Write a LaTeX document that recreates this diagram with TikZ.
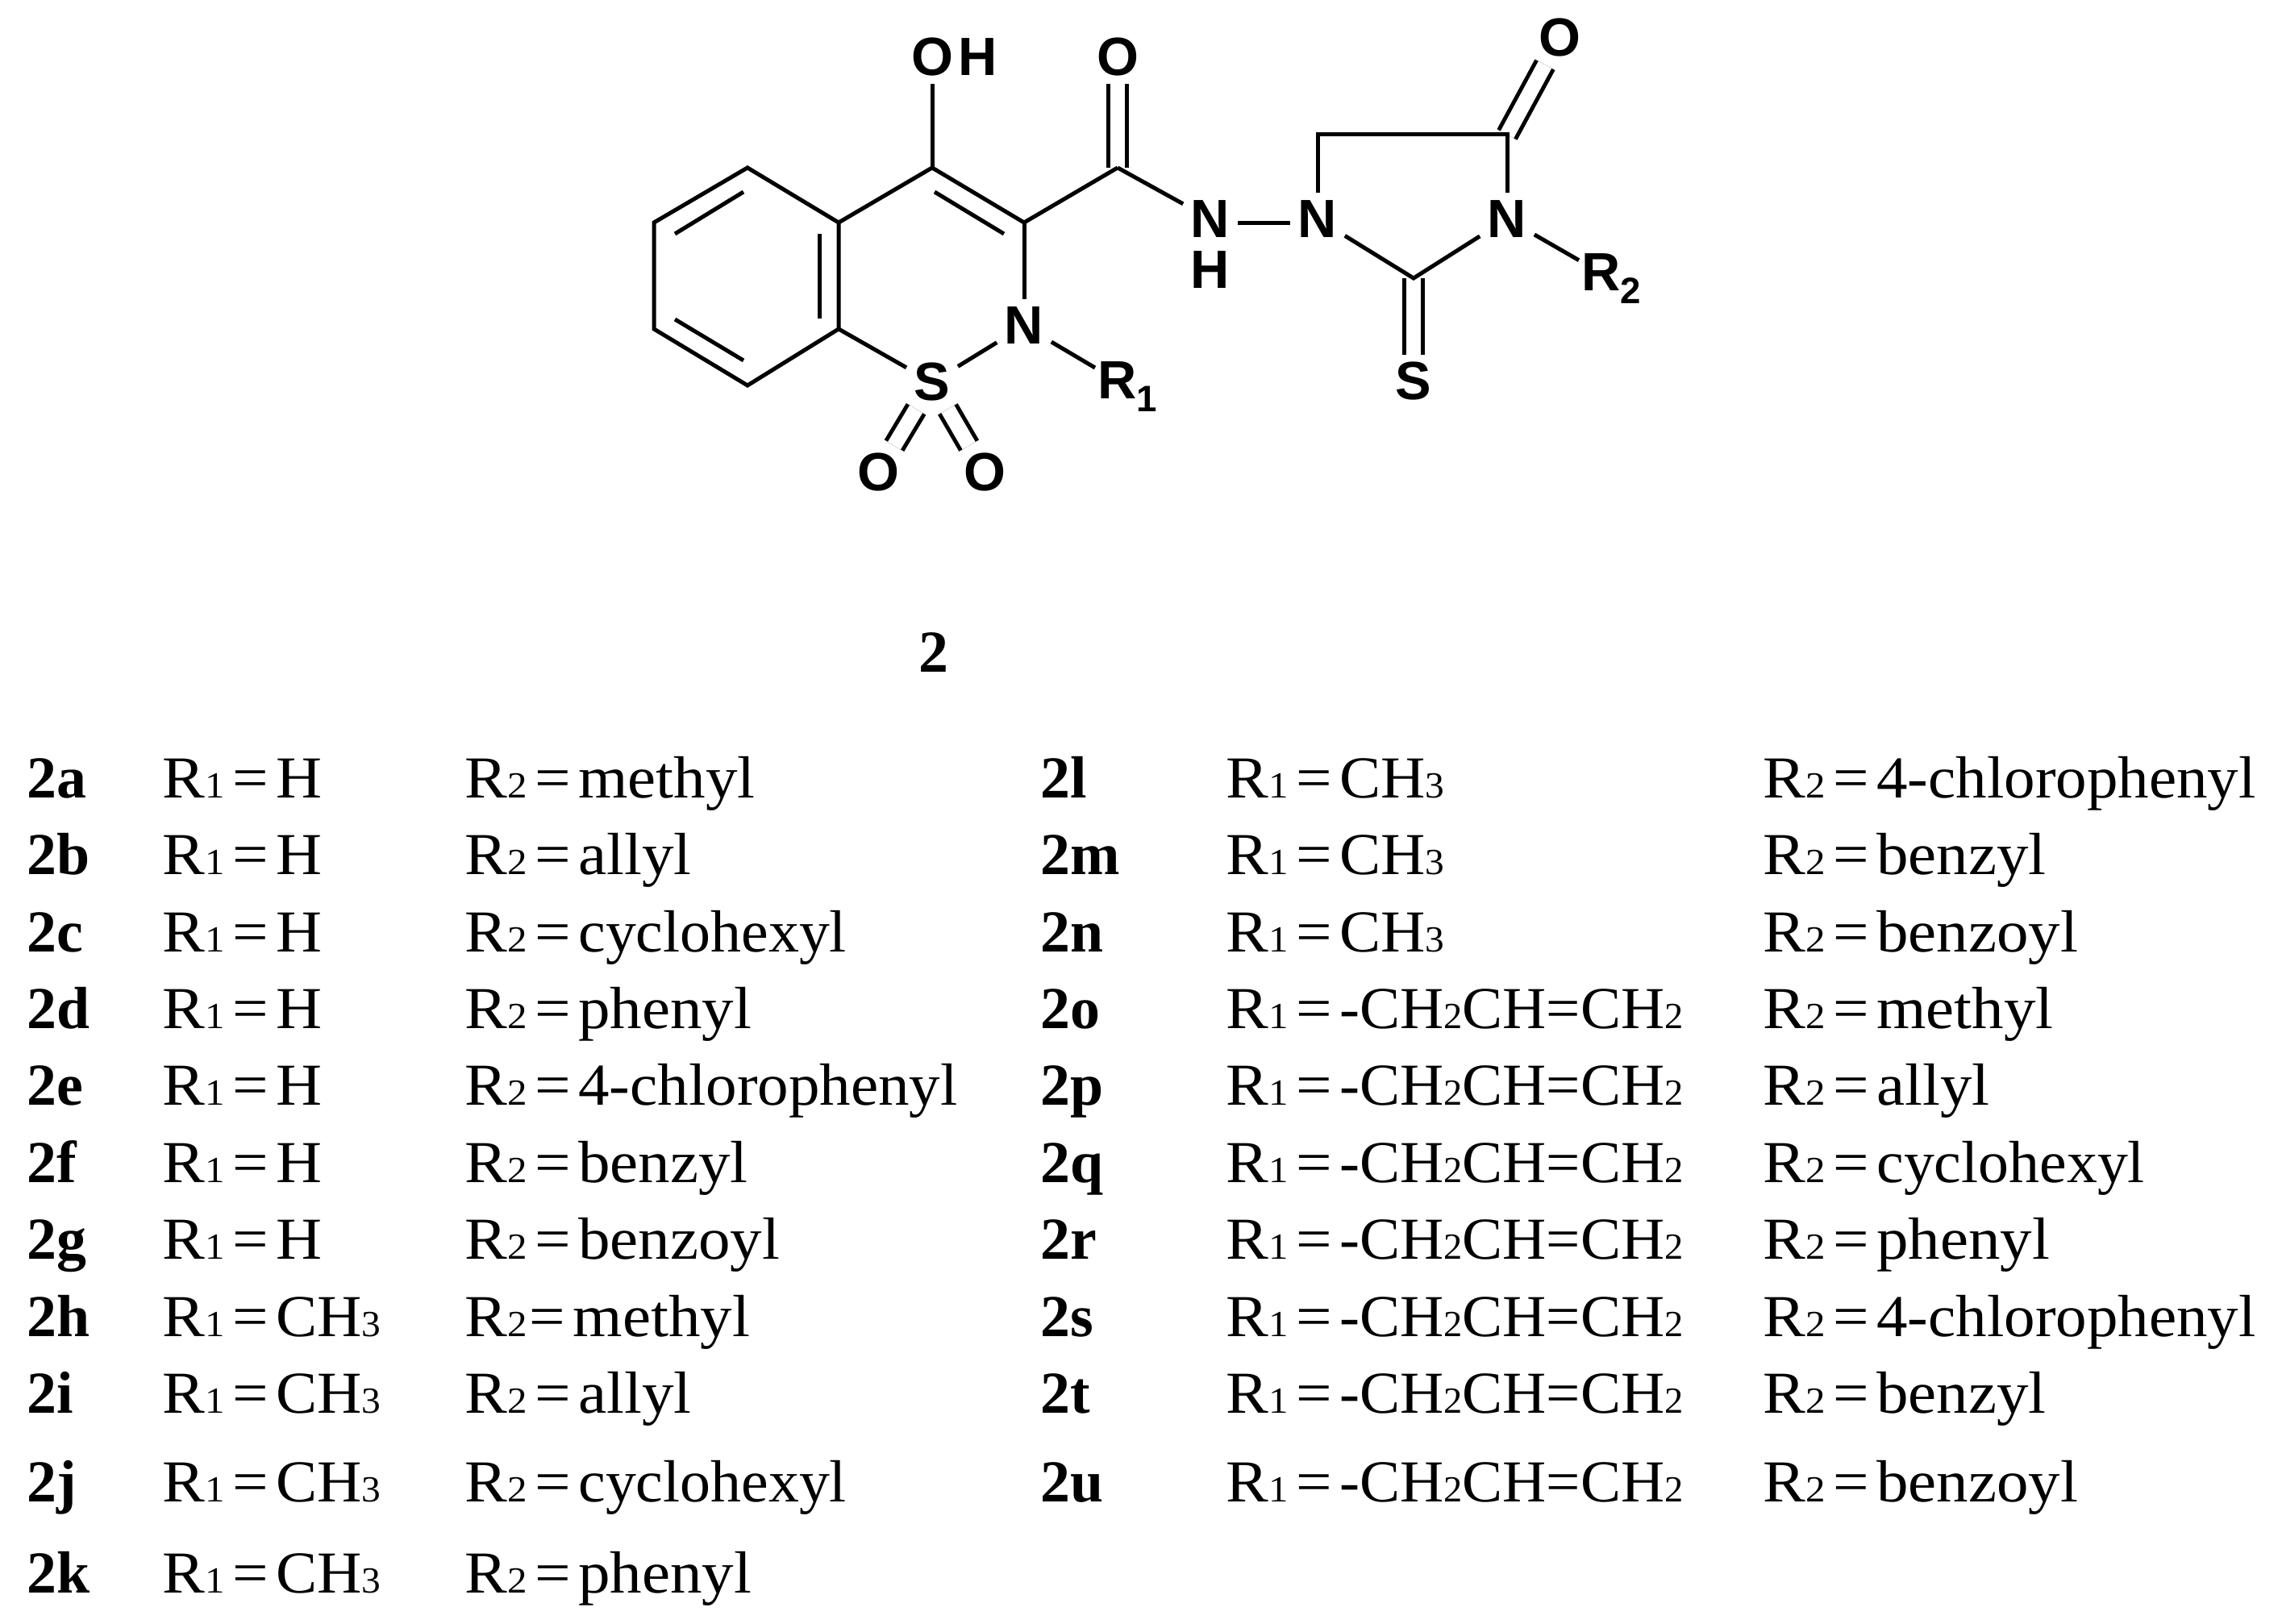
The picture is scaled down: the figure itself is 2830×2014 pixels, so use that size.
\documentclass[tikz,border=0pt]{standalone}
\usepackage{fontspec}
\setmainfont[FakeStretch=1.07,BoldFeatures={FakeStretch=1.0}]{Liberation Serif}
\newfontfamily\atomfont{Liberation Sans}
\usepackage{graphicx}
\newcommand{\subn}[1]{{\fontsize{13}{13}\selectfont #1}}
\newcommand{\Rone}{R\subn{1}\kern2.7pt=\kern2.7pt}
\newcommand{\Rtwo}{R\subn{2}\kern2.7pt=\kern2.7pt}
\newcommand{\CHthree}{\scalebox{0.97}[1]{CH\subn{3}}}
\newcommand{\allylgrp}{\scalebox{0.95}[1]{-CH\subn{2}CH=CH\subn{2}}}
\newcommand{\cyclogrp}{\scalebox{0.96}[1]{cyclohexyl}}
\newcommand{\chlorogrp}{\scalebox{0.975}[1]{4-chlorophenyl}}
\newcommand{\atomsub}[1]{\raisebox{-1.6mm}{\fontsize{13}{13}\selectfont #1}}
\tikzset{
	atom/.style={font=\atomfont\bfseries\fontsize{19}{19}\selectfont,inner sep=0.9mm},
	bond/.style={line width=0.5mm},
	dblbond/.style={line width=0.5mm,double,double distance=1.85mm},
	entry/.style={anchor=base west,inner sep=0pt,font=\fontsize{21}{21}\selectfont},
	tag/.style={anchor=base west,inner sep=0pt,font=\bfseries\fontsize{21}{21}\selectfont}
}
\begin{document}
\begin{tikzpicture}[x=0.1mm,y=-0.1mm]
	\useasboundingbox (0,0) rectangle (2830,2014);
	% ring atoms
	\coordinate (B1) at (927,208);
	\coordinate (B2) at (811,276);
	\coordinate (B3) at (811,408);
	\coordinate (B4) at (927,478);
	\coordinate (B5) at (1040,408);
	\coordinate (B6) at (1040,276);
	\coordinate (C4) at (1156,208);
	\coordinate (C3) at (1270,276);
	\coordinate (CA) at (1386,208);
	\coordinate (C5) at (1634,167);
	\coordinate (C6) at (1869,167);
	\coordinate (C7) at (1753,345);
	% inner lines of the double bonds
	\coordinate (I1) at (922,238);
	\coordinate (I2) at (837,290);
	\coordinate (I3) at (1016,290);
	\coordinate (I4) at (1016,395);
	\coordinate (I5) at (837,396);
	\coordinate (I6) at (922,447);
	\coordinate (I7) at (1159,238);
	\coordinate (I8) at (1245,290);
	% hetero atoms
	\node[atom] (OH) at (1156,70.5) {O};
	\node[atom] (HO) at (1213,70.5) {H};
	\node[atom] (OA) at (1386,70.5) {O};
	\node[atom] (NA) at (1501,271.5) {N};
	\node[atom] (HN) at (1501,335) {H};
	\node[atom] (NB) at (1634,271.5) {N};
	\node[atom] (NC) at (1869,271.5) {N};
	\node[atom] (OB) at (1934,47) {O};
	\node[atom] (SB) at (1753,473) {S};
	\node[atom] (ND) at (1270,404) {N};
	\node[atom] (SA) at (1156,474) {S};
	\node[atom] (OC) at (1089,586) {O};
	\node[atom] (OD) at (1221,586) {O};
	\node[atom,anchor=base west,inner sep=0.3mm] (RA) at (1358,495) {R\atomsub{1}};
	\node[atom,anchor=base west,inner sep=0.3mm] (RB) at (1958,361) {R\atomsub{2}};
	% double bonds
	\draw[dblbond] (CA) -- (OA);
	\draw[dblbond] (C6) -- (OB);
	\draw[dblbond] (C7) -- (SB);
	\draw[dblbond] (SA) -- (OC);
	\draw[dblbond] (SA) -- (OD);
	% single bonds
	\draw[bond] (B1) -- (B2) -- (B3) -- (B4) -- (B5) -- (B6) -- cycle;
	\draw[bond] (B6) -- (C4) -- (C3) -- (CA);
	\draw[bond] (I1) -- (I2);
	\draw[bond] (I3) -- (I4);
	\draw[bond] (I5) -- (I6);
	\draw[bond] (I7) -- (I8);
	\draw[bond] (C4) -- (OH);
	\draw[bond] (C3) -- (ND);
	\draw[bond] (B5) -- (SA);
	\draw[bond] (SA) -- (ND);
	\draw[bond] (ND) -- (RA);
	\draw[bond] (CA) -- (NA);
	\draw[bond] ([yshift=-0.5mm]NA.east) -- ([yshift=-0.5mm]NB.west);
	\draw[bond] (NB) -- (C5) -- (C6) -- (NC);
	\draw[bond] (NB) -- (C7) -- (NC);
	\draw[bond] (NC) -- (RB);
	% compound number
	\node[tag] (cpd) at (1139,834) {2};
	% table, left half
	\node[tag] (a1) at (33,989) {2a}; \node[entry] (a2) at (201,989) {\Rone H}; \node[entry] (a3) at (576,989) {\Rtwo methyl};
	\node[tag] (b1) at (33,1084) {2b}; \node[entry] (b2) at (201,1084) {\Rone H}; \node[entry] (b3) at (576,1084) {\Rtwo allyl};
	\node[tag] (c1) at (33,1180) {2c}; \node[entry] (c2) at (201,1180) {\Rone H}; \node[entry] (c3) at (576,1180) {\Rtwo\cyclogrp};
	\node[tag] (d1) at (33,1275) {2d}; \node[entry] (d2) at (201,1275) {\Rone H}; \node[entry] (d3) at (576,1275) {\Rtwo phenyl};
	\node[tag] (e1) at (33,1370) {2e}; \node[entry] (e2) at (201,1370) {\Rone H}; \node[entry] (e3) at (576,1370) {\Rtwo\chlorogrp};
	\node[tag] (f1) at (33,1466) {2f}; \node[entry] (f2) at (201,1466) {\Rone H}; \node[entry] (f3) at (576,1466) {\Rtwo benzyl};
	\node[tag] (g1) at (33,1561) {2g}; \node[entry] (g2) at (201,1561) {\Rone H}; \node[entry] (g3) at (576,1561) {\Rtwo benzoyl};
	\node[tag] (h1) at (33,1657) {2h}; \node[entry] (h2) at (201,1657) {\Rone\CHthree}; \node[entry] (h3) at (576,1657) {R\subn{2}\kern0.8pt=\kern2.7pt methyl};
	\node[tag] (i1) at (33,1752) {2i}; \node[entry] (i2) at (201,1752) {\Rone\CHthree}; \node[entry] (i3) at (576,1752) {\Rtwo allyl};
	\node[tag] (j1) at (33,1862) {2j}; \node[entry] (j2) at (201,1862) {\Rone\CHthree}; \node[entry] (j3) at (576,1862) {\Rtwo\cyclogrp};
	\node[tag] (k1) at (33,1975) {2k}; \node[entry] (k2) at (201,1975) {\Rone\CHthree}; \node[entry] (k3) at (576,1975) {\Rtwo phenyl};
	% table, right half
	\node[tag] (l1) at (1290,989) {2l}; \node[entry] (l2) at (1520,989) {\Rone\CHthree}; \node[entry] (l3) at (2186,989) {\Rtwo\chlorogrp};
	\node[tag] (m1) at (1290,1084) {2m}; \node[entry] (m2) at (1520,1084) {\Rone\CHthree}; \node[entry] (m3) at (2186,1084) {\Rtwo benzyl};
	\node[tag] (n1) at (1290,1180) {2n}; \node[entry] (n2) at (1520,1180) {\Rone\CHthree}; \node[entry] (n3) at (2186,1180) {\Rtwo benzoyl};
	\node[tag] (o1) at (1290,1275) {2o}; \node[entry] (o2) at (1520,1275) {\Rone\allylgrp}; \node[entry] (o3) at (2186,1275) {\Rtwo methyl};
	\node[tag] (p1) at (1290,1370) {2p}; \node[entry] (p2) at (1520,1370) {\Rone\allylgrp}; \node[entry] (p3) at (2186,1370) {\Rtwo allyl};
	\node[tag] (q1) at (1290,1466) {2q}; \node[entry] (q2) at (1520,1466) {\Rone\allylgrp}; \node[entry] (q3) at (2186,1466) {\Rtwo\cyclogrp};
	\node[tag] (r1) at (1290,1561) {2r}; \node[entry] (r2) at (1520,1561) {\Rone\allylgrp}; \node[entry] (r3) at (2186,1561) {\Rtwo phenyl};
	\node[tag] (s1) at (1290,1657) {2s}; \node[entry] (s2) at (1520,1657) {\Rone\allylgrp}; \node[entry] (s3) at (2186,1657) {\Rtwo\chlorogrp};
	\node[tag] (t1) at (1290,1752) {2t}; \node[entry] (t2) at (1520,1752) {\Rone\allylgrp}; \node[entry] (t3) at (2186,1752) {\Rtwo benzyl};
	\node[tag] (u1) at (1290,1862) {2u}; \node[entry] (u2) at (1520,1862) {\Rone\allylgrp}; \node[entry] (u3) at (2186,1862) {\Rtwo benzoyl};
\end{tikzpicture}
\end{document}
